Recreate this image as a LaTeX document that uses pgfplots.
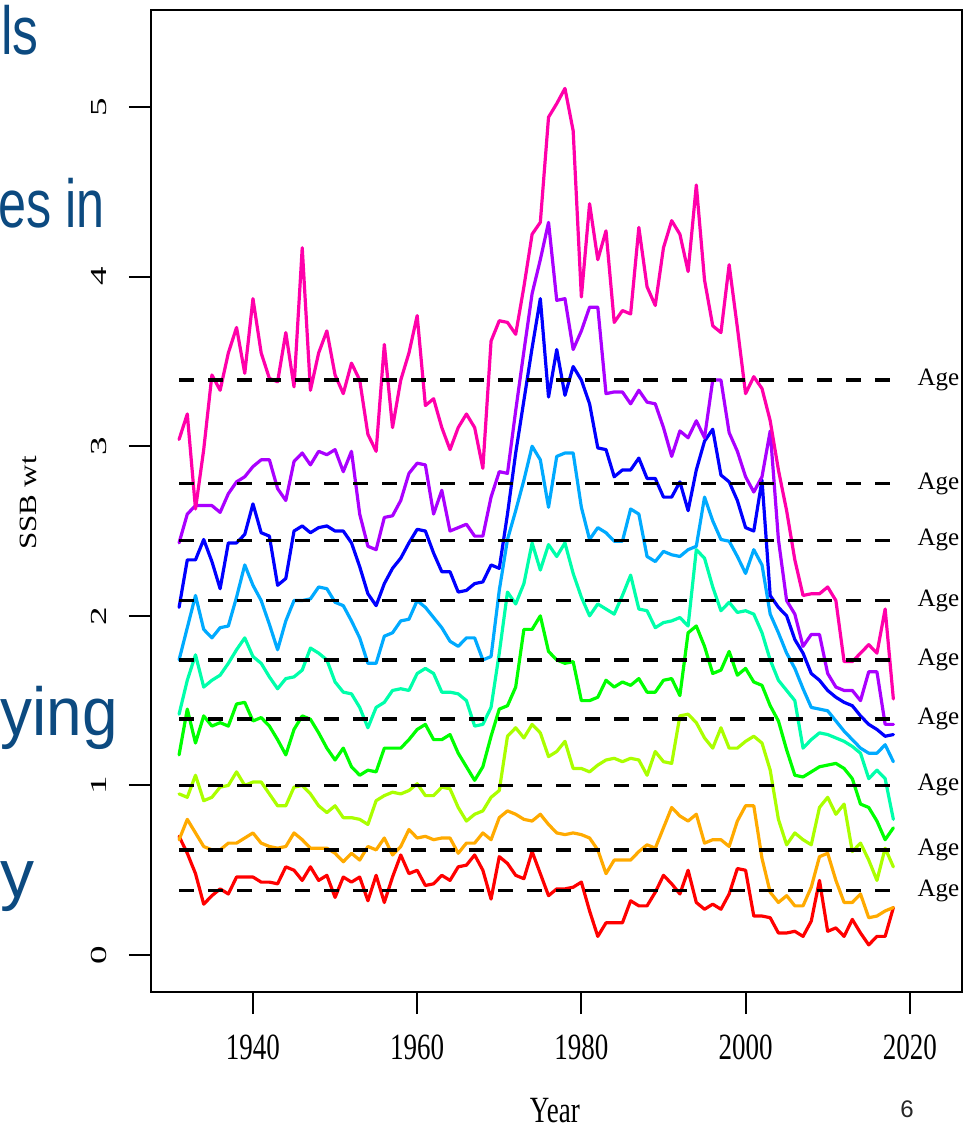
\documentclass[border=0pt]{standalone}
\usepackage{pgfplots}
\pgfplotsset{compat=1.18}
\usepackage{pgfplotstable}
\usepackage{fontspec}
\setmainfont{Liberation Serif}
\newfontfamily\slidefont{Liberation Sans}
\definecolor{c1}{HTML}{FF0000}
\definecolor{c2}{HTML}{FFAA00}
\definecolor{c3}{HTML}{AAFF00}
\definecolor{c4}{HTML}{00FF00}
\definecolor{c5}{HTML}{00FFAA}
\definecolor{c6}{HTML}{00AAFF}
\definecolor{c7}{HTML}{0000FF}
\definecolor{c8}{HTML}{AA00FF}
\definecolor{c9}{HTML}{FF00AA}
\definecolor{slideblue}{RGB}{12,74,128}
\newcommand{\sqx}[1]{\scalebox{0.73}[1]{#1}}
\newcommand{\sqy}[1]{\scalebox{1}[0.62]{#1}}

\pgfplotstableread{
yr red orange ygreen green aqua lblue blue purple pink
1931 0.70 0.68 0.95 1.18 1.42 1.74 2.05 2.43 3.04
1932 0.60 0.80 0.93 1.45 1.62 1.93 2.33 2.60 3.19
1933 0.48 0.72 1.06 1.25 1.77 2.12 2.33 2.65 2.63
1934 0.30 0.64 0.91 1.41 1.58 1.92 2.45 2.65 2.98
1935 0.35 0.62 0.93 1.35 1.62 1.87 2.32 2.65 3.42
1936 0.39 0.62 0.99 1.37 1.65 1.93 2.16 2.61 3.33
1937 0.36 0.66 1.00 1.35 1.72 1.94 2.43 2.72 3.55
1938 0.46 0.66 1.08 1.48 1.80 2.11 2.43 2.79 3.70
1939 0.46 0.69 1.00 1.49 1.87 2.30 2.48 2.82 3.43
1940 0.46 0.72 1.02 1.38 1.76 2.18 2.66 2.88 3.87
1941 0.43 0.66 1.02 1.40 1.72 2.09 2.49 2.92 3.55
1942 0.43 0.64 0.95 1.35 1.64 1.95 2.47 2.92 3.40
1943 0.42 0.63 0.88 1.27 1.57 1.80 2.18 2.75 3.38
1944 0.52 0.64 0.88 1.18 1.63 1.97 2.22 2.68 3.67
1945 0.50 0.72 0.99 1.33 1.64 2.09 2.50 2.91 3.35
1946 0.44 0.68 1.00 1.41 1.68 2.09 2.53 2.96 4.17
1947 0.52 0.63 0.95 1.39 1.81 2.10 2.49 2.89 3.33
1948 0.44 0.63 0.88 1.31 1.78 2.17 2.52 2.97 3.55
1949 0.47 0.63 0.84 1.22 1.74 2.16 2.53 2.95 3.68
1950 0.34 0.60 0.88 1.15 1.61 2.08 2.50 2.98 3.42
1951 0.46 0.55 0.81 1.22 1.55 2.06 2.50 2.85 3.31
1952 0.43 0.60 0.81 1.11 1.54 1.97 2.43 2.97 3.49
1953 0.46 0.56 0.80 1.06 1.46 1.87 2.29 2.60 3.39
1954 0.32 0.64 0.77 1.09 1.34 1.72 2.13 2.41 3.07
1955 0.47 0.62 0.91 1.08 1.46 1.72 2.06 2.39 2.97
1956 0.31 0.69 0.94 1.22 1.49 1.88 2.19 2.58 3.60
1957 0.46 0.59 0.96 1.22 1.56 1.90 2.28 2.59 3.11
1958 0.59 0.64 0.95 1.22 1.57 1.97 2.34 2.68 3.39
1959 0.48 0.74 0.97 1.27 1.56 1.98 2.43 2.84 3.55
1960 0.50 0.69 1.01 1.33 1.66 2.09 2.51 2.90 3.77
1961 0.41 0.70 0.94 1.36 1.69 2.05 2.50 2.89 3.24
1962 0.42 0.68 0.94 1.27 1.66 1.99 2.37 2.60 3.28
1963 0.47 0.69 0.99 1.27 1.55 1.93 2.26 2.74 3.11
1964 0.44 0.69 0.98 1.30 1.55 1.85 2.26 2.50 2.98
1965 0.52 0.60 0.87 1.19 1.54 1.82 2.14 2.52 3.11
1966 0.53 0.66 0.79 1.11 1.50 1.87 2.15 2.54 3.19
1967 0.59 0.66 0.83 1.03 1.35 1.87 2.19 2.47 3.11
1968 0.50 0.72 0.85 1.11 1.36 1.74 2.20 2.47 2.87
1969 0.33 0.68 0.93 1.29 1.46 1.76 2.30 2.70 3.62
1970 0.58 0.81 0.97 1.45 1.78 2.15 2.28 2.85 3.74
1971 0.54 0.85 1.29 1.47 2.14 2.45 2.60 2.84 3.73
1972 0.47 0.83 1.34 1.58 2.07 2.62 2.96 3.21 3.66
1973 0.45 0.80 1.28 1.92 2.19 2.80 3.27 3.56 3.94
1974 0.61 0.79 1.36 1.92 2.43 3.00 3.58 3.90 4.25
1975 0.48 0.83 1.31 2.00 2.27 2.92 3.87 4.10 4.32
1976 0.35 0.77 1.17 1.79 2.42 2.64 3.29 4.32 4.94
1977 0.39 0.72 1.20 1.74 2.35 2.94 3.57 3.86 5.02
1978 0.39 0.71 1.26 1.72 2.43 2.96 3.30 3.87 5.11
1979 0.40 0.72 1.10 1.73 2.25 2.96 3.47 3.57 4.86
1980 0.43 0.71 1.10 1.50 2.11 2.64 3.39 3.68 3.88
1981 0.26 0.69 1.08 1.50 2.00 2.45 3.25 3.82 4.43
1982 0.11 0.62 1.12 1.52 2.07 2.52 2.99 3.82 4.10
1983 0.19 0.48 1.15 1.62 2.04 2.49 2.98 3.31 4.27
1984 0.19 0.56 1.16 1.58 2.01 2.44 2.82 3.32 3.73
1985 0.19 0.56 1.14 1.61 2.12 2.44 2.86 3.32 3.80
1986 0.32 0.56 1.16 1.59 2.24 2.63 2.86 3.25 3.78
1987 0.29 0.61 1.15 1.63 2.04 2.60 2.93 3.33 4.29
1988 0.29 0.65 1.06 1.55 2.03 2.35 2.81 3.26 3.94
1989 0.37 0.63 1.20 1.55 1.93 2.32 2.81 3.25 3.83
1990 0.47 0.75 1.14 1.62 1.96 2.38 2.70 3.11 4.17
1991 0.42 0.87 1.13 1.63 1.97 2.36 2.70 2.94 4.33
1992 0.36 0.82 1.41 1.53 1.99 2.35 2.79 3.09 4.25
1993 0.50 0.79 1.42 1.90 1.94 2.39 2.62 3.05 4.03
1994 0.31 0.83 1.37 1.94 2.39 2.41 2.86 3.15 4.54
1995 0.27 0.66 1.28 1.82 2.34 2.70 3.03 3.05 3.98
1996 0.30 0.68 1.22 1.66 2.17 2.56 3.10 3.39 3.71
1997 0.27 0.68 1.34 1.68 2.03 2.45 2.83 3.39 3.67
1998 0.36 0.64 1.22 1.79 2.08 2.44 2.79 3.08 4.07
1999 0.51 0.79 1.22 1.65 2.02 2.35 2.68 2.97 3.70
2000 0.50 0.88 1.26 1.69 2.03 2.25 2.52 2.82 3.31
2001 0.23 0.88 1.29 1.61 2.01 2.39 2.50 2.73 3.41
2002 0.23 0.57 1.25 1.59 1.90 2.30 2.80 2.82 3.34
2003 0.22 0.37 1.09 1.47 1.74 2.01 2.12 3.09 3.15
2004 0.13 0.31 0.80 1.38 1.62 1.90 2.05 2.45 2.86
2005 0.13 0.35 0.65 1.21 1.56 1.78 2.00 2.09 2.62
2006 0.14 0.29 0.72 1.06 1.50 1.69 1.86 2.01 2.33
2007 0.11 0.29 0.68 1.05 1.22 1.57 1.78 1.82 2.12
2008 0.20 0.40 0.65 1.08 1.27 1.46 1.66 1.89 2.13
2009 0.44 0.58 0.87 1.11 1.31 1.45 1.62 1.89 2.13
2010 0.14 0.60 0.93 1.12 1.30 1.44 1.56 1.66 2.17
2011 0.16 0.44 0.83 1.13 1.28 1.38 1.52 1.58 2.09
2012 0.11 0.31 0.89 1.10 1.26 1.32 1.49 1.56 1.73
2013 0.21 0.31 0.61 1.04 1.23 1.27 1.47 1.56 1.73
2014 0.13 0.36 0.66 0.89 1.19 1.22 1.41 1.50 1.78
2015 0.06 0.22 0.56 0.87 1.04 1.19 1.36 1.67 1.83
2016 0.11 0.23 0.44 0.79 1.09 1.19 1.33 1.67 1.78
2017 0.11 0.26 0.63 0.68 1.04 1.24 1.29 1.36 2.04
2018 0.28 0.28 0.52 0.75 0.80 1.14 1.30 1.36 1.51
}\ssb

\begin{document}
\begin{tikzpicture}
\path[use as bounding box] (0,0) rectangle (483.5pt,-564pt);
% fragments of the slide text beside the chart
\begin{scope}[every node/.style={anchor=base east, inner sep=0pt, text=slideblue,
  font=\slidefont\fontsize{34}{34}\selectfont}]
\node at (19.5pt,-27.5pt) {\scalebox{0.76}[1]{ls}};
\node at (52.5pt,-114pt) {\scalebox{0.74}[1]{es in}};
\node at (59pt,-367.5pt) {\scalebox{0.94}[1]{ying}};
\node at (17.5pt,-448.5pt) {y};
\end{scope}
\node[anchor=base, inner sep=0pt, font=\slidefont\fontsize{12}{12}\selectfont, text=black!85]
  at (453.5pt,-558.5pt) {6};

\begin{axis}[
  at={(75.5pt,-496pt)}, anchor=south west,
  scale only axis, width=405.5pt, height=491pt,
  xmin=1927.58, xmax=2026.36, ymin=-0.218, ymax=5.572,
  xtick={1940,1960,1980,2000,2020},
  xticklabels={\sqx{1940},\sqx{1960},\sqx{1980},\sqx{2000},\sqx{2020}},
  ytick={0,1,2,3,4,5},
  yticklabels={\sqy{0},\sqy{1},\sqy{2},\sqy{3},\sqy{4},\sqy{5}},
  xtick pos=bottom, ytick pos=left,
  tick align=outside, major tick length=11pt,
  tick style={black, line width=1pt},
  axis line style={black, line width=1pt},
  xticklabel style={font=\fontsize{18.5}{18.5}\selectfont, anchor=center, yshift=-16.5pt},
  yticklabel style={font=\fontsize{18.5}{18.5}\selectfont, rotate=90, anchor=center, yshift=15pt},
  xlabel={\sqx{Year}},
  xlabel style={at={(axis description cs:0.498,-0.121)}, anchor=center, inner sep=0pt, font=\fontsize{18.5}{18.5}\selectfont},
  ylabel={\scalebox{1}[0.8]{SSB wt}},
  ylabel style={at={(axis description cs:-0.1517,0.498)}, anchor=center, font=\fontsize{15.5}{15.5}\selectfont},
  every axis plot/.append style={line width=1.6pt, line join=round, line cap=round},
]
\addplot[c1] table[x=yr,y=red]{\ssb};
\addplot[c2] table[x=yr,y=orange]{\ssb};
\addplot[c3] table[x=yr,y=ygreen]{\ssb};
\addplot[c4] table[x=yr,y=green]{\ssb};
\addplot[c5] table[x=yr,y=aqua]{\ssb};
\addplot[c6] table[x=yr,y=lblue]{\ssb};
\addplot[c7] table[x=yr,y=blue]{\ssb};
\addplot[c8] table[x=yr,y=purple]{\ssb};
\addplot[c9] table[x=yr,y=pink]{\ssb};
\pgfplotsinvokeforeach{3.39,2.78,2.445,2.09,1.74,1.39,1.0,0.62,0.38}{
  \addplot[black, line width=1.8pt, line cap=butt, dash pattern=on 7.5pt off 7pt]
    coordinates {(1931,#1) (2018,#1)};
  \node[anchor=west, inner sep=0pt, font=\fontsize{12.5}{12.5}\selectfont] at (axis cs:2020.9,#1) {Age};
}
\end{axis}
\end{tikzpicture}
\end{document}
